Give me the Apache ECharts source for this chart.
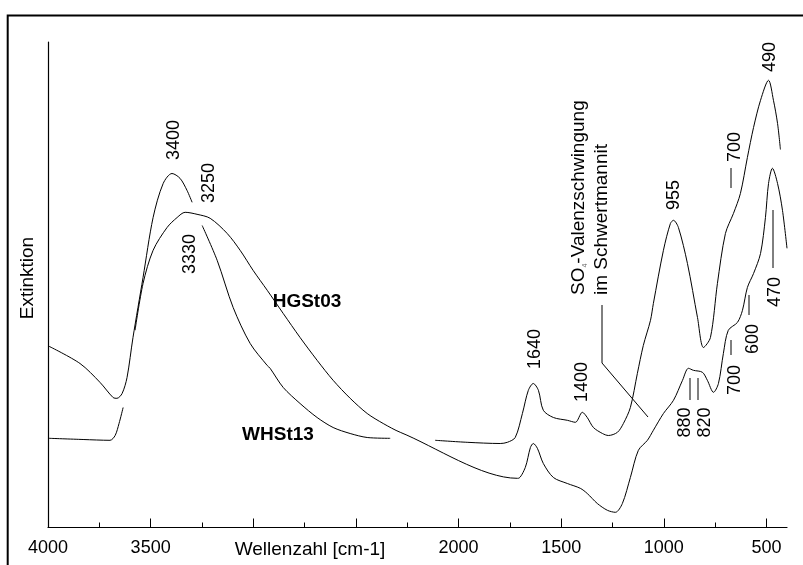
<!DOCTYPE html>
<html>
<head>
<meta charset="utf-8">
<script src="https://cdn.jsdelivr.net/npm/echarts@6/dist/echarts.min.js"></script>
<style>
  html, body { margin: 0; padding: 0; background: #fff; }
  #chart { width: 803px; height: 565px; }
</style>
</head>
<body>
<div id="chart"></div>
<script>
// IR spectra of two samples, wavenumber in cm-1 against extinction (arbitrary units).
// null entries mark the breaks in the recorded traces.
const wnHGSt03 = [3995, 3829, 3698, 3673, 3654, 3634, 3605,
  3576, 3537, 3488, 3420, 3371, 3332, 3274, 3210, 3127, 3064, 3001, 2932, 2854, 2772, 2689, 2611, 2528, 2445, 2367, 2284,
  1714, 1709, 1675, 1650, 1636, 1616, 1587, 1538, 1470, 1407, 1373, 1324, 1275, 1236, 1202, 1163, 1124, 1080, 1051, 1002,
  953, 909, 880, 856, 812, 788, 758, 734, 710, 686, 641, 617, 593, 563, 529, 505, 490, 471, 446, 422, 400];
const extHGSt03 = [0.223, 0.220, 0.218, 0.230, 0.260, 0.300, null,
  0.493, 0.610, 0.693, 0.750, 0.775, 0.788, 0.783, 0.773, 0.735, 0.693, 0.643, 0.593, 0.535, 0.475, 0.418, 0.368, 0.323, 0.285, 0.260, 0.238,
  0.123, 0.123, 0.150, 0.200, 0.210, 0.198, 0.160, 0.125, 0.110, 0.098, 0.085, 0.060, 0.043, 0.038, 0.060, 0.125, 0.193, 0.218, 0.243, 0.285,
  0.318, 0.368, 0.398, 0.393, 0.388, 0.368, 0.338, 0.360, 0.435, 0.493, 0.513, 0.543, 0.600, 0.635, 0.685, 0.775, 0.860, 0.898, 0.860, 0.793, 0.698];

const wnWHSt13 = [3995, 3844, 3747, 3683, 3664, 3639, 3615, 3586, 3537, 3488, 3439, 3396, 3357, 3323, 3298, 3275,
  3249, 3176, 3098, 3015, 2932, 2918, 2854, 2772, 2689, 2611, 2528, 2445, 2333, 2220,
  2114, 1958, 1797, 1762, 1724, 1689, 1660, 1636, 1611, 1587, 1538, 1470, 1431, 1397, 1373, 1343, 1299, 1270, 1226, 1197,
  1163, 1129, 1100, 1065, 1051, 1002, 968, 953, 929, 885, 836, 807, 773, 739, 700, 661, 627, 593, 563, 529, 490, 466, 446, 432];
const extWHSt13 = [0.453, 0.410, 0.363, 0.325, 0.323, 0.335, 0.375, 0.475, 0.625, 0.775, 0.860, 0.885, 0.873, 0.843, 0.813, null,
  0.755, 0.668, 0.550, 0.460, 0.405, 0.398, 0.350, 0.310, 0.275, 0.250, 0.235, 0.225, 0.223, null,
  0.218, 0.213, 0.210, 0.213, 0.225, 0.285, 0.343, 0.360, 0.343, 0.293, 0.275, 0.268, 0.263, 0.288, 0.275, 0.250, 0.235, 0.230, 0.238, 0.260,
  0.300, 0.385, 0.455, 0.518, 0.560, 0.693, 0.760, 0.768, 0.750, 0.660, 0.525, 0.450, 0.475, 0.610, 0.735, 0.785, 0.835, 0.925, 1.000, 1.068, 1.118, 1.068, 1.010, 0.945];

// axis ticks
const majorTicks = [4000, 3500, 3000, 2500, 2000, 1500, 1000, 500];
const minorTicks = [3750, 3250, 2750, 2250, 1750, 1250, 750];
const tickLabels = [4000, 3500, 2000, 1500, 1000, 500];

const FONT = '"Liberation Sans", Arial, sans-serif';
const GRID_TOP = 42, GRID_BOTTOM_Y = 527.5;
const Y_MAX = (GRID_BOTTOM_Y - GRID_TOP) / 400;

function pairs(xs, ys) {
  return xs.map((x, i) => [x, ys[i]]);
}

function vtext(x, y, text, size, extra) {
  return Object.assign({
    type: 'text', x: x, y: y, rotation: Math.PI / 2,
    style: { text: text, font: size + 'px ' + FONT, fill: '#000', align: 'center', verticalAlign: 'middle' }
  }, extra || {});
}
function seg(x1, y1, x2, y2) {
  return { type: 'line', shape: { x1: x1, y1: y1, x2: x2, y2: y2 }, style: { stroke: '#000', lineWidth: 1 } };
}

const chart = echarts.init(document.getElementById('chart'), null, { renderer: 'canvas' });

const xBase = {
  type: 'value', min: 400, max: 4000, inverse: true, position: 'bottom',
  splitLine: { show: false }
};

chart.setOption({
  animation: false,
  backgroundColor: '#fff',
  grid: { left: 48, right: 16, top: GRID_TOP, bottom: 565 - GRID_BOTTOM_Y },
  xAxis: [
    Object.assign({}, xBase, {
      axisLine: { show: true, onZero: false, lineStyle: { color: '#000', width: 1.2 } },
      axisTick: { show: true, inside: true, length: 9, customValues: majorTicks, lineStyle: { color: '#000', width: 1 } },
      axisLabel: {
        show: true, customValues: tickLabels, margin: 12, color: '#000', fontSize: 18, fontFamily: FONT,
        formatter: v => String(v)
      }
    }),
    Object.assign({}, xBase, {
      axisLine: { show: false, onZero: false },
      axisTick: { show: true, inside: true, length: 5, customValues: minorTicks, lineStyle: { color: '#000', width: 1 } },
      axisLabel: { show: false }
    })
  ],
  yAxis: {
    type: 'value', min: 0, max: Y_MAX,
    axisLine: { show: true, onZero: false, lineStyle: { color: '#000', width: 1.2 } },
    axisTick: { show: false }, axisLabel: { show: false }, splitLine: { show: false }
  },
  series: [
    {
      name: 'HGSt03', type: 'line', xAxisIndex: 0, data: pairs(wnHGSt03, extHGSt03),
      showSymbol: false, connectNulls: false, smooth: 0.3,
      lineStyle: { color: '#000', width: 1 }
    },
    {
      name: 'WHSt13', type: 'line', xAxisIndex: 0, data: pairs(wnWHSt13, extWHSt13),
      showSymbol: false, connectNulls: false, smooth: 0.3,
      lineStyle: { color: '#000', width: 1 }
    }
  ],
  graphic: [
    // frame
    { type: 'polyline', shape: { points: [[7.7, 565], [7.7, 15.4], [803, 15.4]] }, style: { stroke: '#000', lineWidth: 2, fill: null } },
    // axis titles and sample names
    { type: 'text', x: 310, y: 550, style: { text: 'Wellenzahl [cm-1]', font: '19px ' + FONT, fill: '#000', align: 'center', verticalAlign: 'middle' } },
    vtext(28, 278, 'Extinktion', 19),
    { type: 'text', x: 307, y: 302, style: { text: 'HGSt03', font: 'bold 19px ' + FONT, fill: '#000', align: 'center', verticalAlign: 'middle' } },
    { type: 'text', x: 278, y: 435, style: { text: 'WHSt13', font: 'bold 19px ' + FONT, fill: '#000', align: 'center', verticalAlign: 'middle' } },
    // band positions
    vtext(174, 140, '3400', 18),
    vtext(209.5, 183, '3250', 18),
    vtext(190, 254, '3330', 18),
    vtext(535.5, 349, '1640', 18),
    vtext(582.5, 382, '1400', 18),
    vtext(674.5, 195, '955', 18),
    vtext(735, 147, '700', 18),
    vtext(770, 57, '490', 18),
    vtext(775, 292, '470', 18),
    vtext(753.5, 339, '600', 18),
    vtext(735, 380, '700', 18),
    vtext(685, 422.5, '880', 18),
    vtext(705.5, 422.5, '820', 18),
    // sulfate band note
    {
      type: 'text', x: 579, y: 295, rotation: Math.PI / 2,
      style: {
        text: '{n|SO}{s|4}{n|-Valenzschwingung}',
        align: 'left', verticalAlign: 'middle',
        rich: {
          n: { font: '19px ' + FONT, fill: '#000' },
          s: { font: '7px ' + FONT, fill: '#666', verticalAlign: 'bottom' }
        }
      }
    },
    { type: 'text', x: 601.5, y: 295, rotation: Math.PI / 2,
      style: { text: 'im Schwertmannit', font: '19px ' + FONT, fill: '#000', align: 'left', verticalAlign: 'middle' } },
    { type: 'polyline', shape: { points: [[602, 305], [602, 363], [648, 417]] }, style: { stroke: '#000', lineWidth: 1, fill: null } },
    // leader marks
    seg(731, 168, 731, 188),
    seg(773, 210, 773, 268),
    seg(749, 295, 749, 315),
    seg(731, 340, 731, 355),
    seg(690, 378, 690, 400),
    seg(698, 378, 698, 400)
  ]
});
</script>
</body>
</html>
